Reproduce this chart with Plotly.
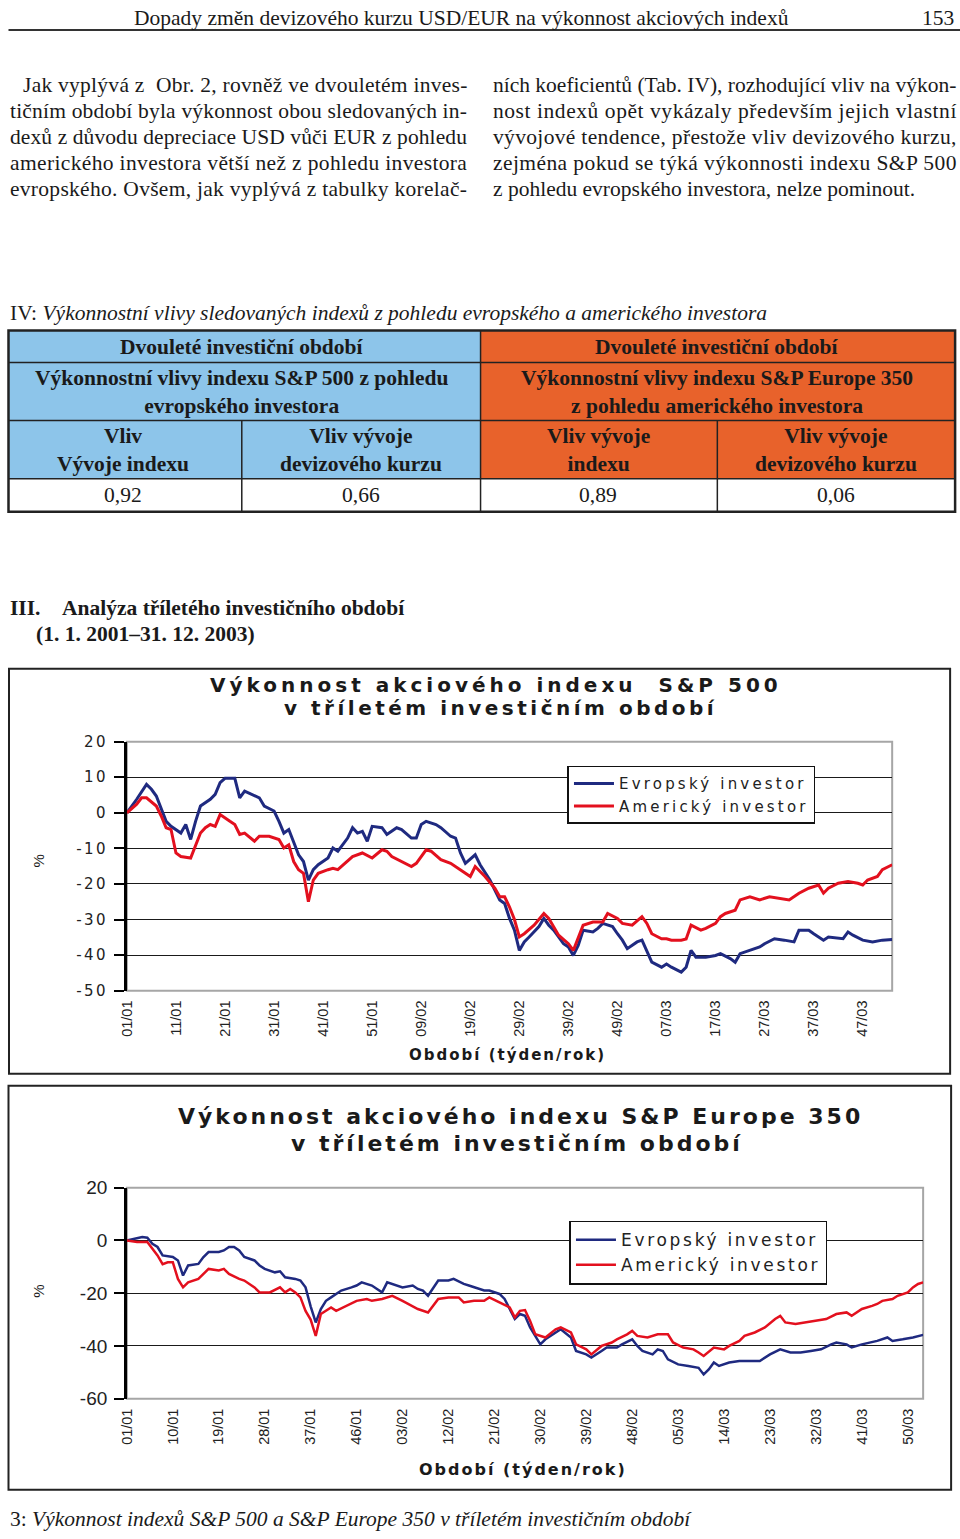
import json
import plotly.graph_objects as go

W, H = 960, 1539

# ---------------- data ----------------
# S&P 500 (chart 1): week index (0 = week 01/2001), cumulative performance in %
sp500_eu_weeks = [0, 2, 4, 5, 6, 7, 8, 9, 11, 12, 13, 14, 15, 17, 18, 19, 20, 22, 23, 24, 26, 27, 28, 30,
                  31, 32, 33, 34, 35, 36, 37, 38, 39, 41, 42, 43, 45, 46, 47, 48, 49, 50, 52, 53, 55, 56,
                  58, 59, 60, 61, 63, 64, 66, 67, 68, 69, 71, 72, 74, 76, 77, 78, 79, 80, 81, 82, 84, 85,
                  86, 87, 89, 90, 91, 92, 93, 95, 96, 97, 99, 100, 101, 102, 104, 105, 106, 107, 109, 110,
                  111, 113, 114, 115, 116, 118, 120, 121, 123, 124, 125, 127, 129, 130, 132, 134, 136, 137,
                  139, 140, 142, 143, 146, 147, 148, 150, 152, 154, 156]
sp500_eu = [0, 3.8, 8.0, 6.6, 4.7, 1.4, -2.4, -3.8, -5.7, -3.3, -7.5, -2.4, 1.9, 3.8, 5.2, 8.5, 9.7, 9.7,
            4.2, 6.1, 4.7, 4.2, 1.9, 0.5, -2.4, -5.7, -4.7, -8.5, -11.8, -13.7, -18.9, -16.0, -14.6,
            -12.7, -9.9, -10.8, -7.1, -4.2, -5.7, -5.2, -8.0, -3.8, -4.2, -6.1, -4.2, -4.7, -7.1, -7.1,
            -3.3, -2.4, -3.3, -4.2, -6.6, -7.1, -11.3, -14.2, -11.8, -14.6, -18.9, -24.5, -25.5, -29.7,
            -33.0, -38.7, -36.3, -34.9, -32.0, -29.7, -31.6, -33.0, -36.8, -37.7, -40.1, -37.3, -33.0,
            -33.5, -32.5, -31.1, -32.0, -34.0, -35.8, -38.2, -36.3, -35.8, -38.7, -42.0, -43.4, -42.5,
            -43.4, -44.8, -43.4, -38.7, -40.6, -40.6, -40.1, -39.6, -41.0, -42.0, -39.6, -38.7, -37.7,
            -36.8, -35.4, -35.8, -36.3, -33.0, -33.0, -34.0, -35.8, -34.9, -35.4, -33.5, -34.4, -35.8,
            -36.3, -35.8, -35.6]

sp500_us_weeks = [0, 2, 3, 4, 6, 7, 8, 9, 10, 11, 13, 14, 15, 16, 17, 18, 19, 21, 22, 23, 24, 26, 27, 29,
                  31, 32, 33, 34, 35, 36, 37, 38, 39, 41, 42, 43, 45, 46, 48, 50, 52, 53, 54, 56, 58, 59,
                  61, 62, 64, 66, 68, 70, 71, 73, 75, 76, 77, 78, 79, 80, 81, 83, 85, 86, 88, 90, 91, 92,
                  93, 95, 97, 98, 100, 101, 103, 105, 106, 107, 109, 110, 111, 113, 114, 115, 117, 118,
                  120, 121, 122, 124, 125, 127, 129, 131, 133, 135, 137, 139, 141, 142, 143, 145, 147,
                  149, 150, 151, 153, 154, 156]
sp500_us = [0, 2.4, 4.2, 4.2, 1.9, -0.9, -4.2, -4.7, -11.3, -12.3, -12.7, -9.4, -5.7, -4.2, -3.3, -3.8,
            -0.5, -2.4, -3.3, -6.1, -5.7, -8.0, -6.6, -6.6, -7.5, -9.9, -9.0, -13.7, -16.0, -17.0, -25.0,
            -18.9, -17.0, -16.0, -15.6, -16.0, -13.7, -12.3, -11.3, -12.7, -10.4, -10.8, -12.3, -13.7,
            -15.1, -14.2, -10.4, -10.8, -13.2, -14.2, -16.0, -17.9, -15.1, -17.9, -21.2, -23.6, -23.6,
            -26.5, -30.0, -34.9, -34.0, -31.6, -28.3, -29.7, -34.4, -36.8, -38.7, -34.9, -31.6, -30.7,
            -30.7, -28.3, -29.7, -31.1, -31.6, -29.2, -31.1, -34.0, -35.4, -35.4, -35.8, -35.8, -35.5,
            -31.6, -33.0, -32.5, -31.1, -29.2, -28.3, -27.4, -24.5, -23.6, -24.5, -23.6, -24.0, -24.5,
            -22.6, -21.2, -20.3, -22.6, -21.2, -19.8, -19.3, -19.8, -20.3, -18.9, -17.9, -16.0, -14.6]

# S&P Europe 350 (chart 2)
eu350_eu_weeks = [0, 3, 4, 5, 6, 7, 9, 10, 11, 12, 14, 15, 16, 18, 19, 20, 21, 22, 23, 25, 26, 27, 29,
                  30, 31, 33, 34, 35, 36, 37, 38, 39, 40, 42, 44, 45, 46, 48, 49, 50, 51, 52, 54, 56, 57,
                  58, 59, 61, 63, 64, 66, 67, 69, 70, 71, 73, 74, 75, 76, 77, 78, 79, 81, 82, 84, 85, 87,
                  88, 90, 91, 93, 94, 96, 97, 99, 100, 101, 103, 104, 105, 106, 108, 110, 112, 113, 114,
                  115, 116, 118, 120, 122, 124, 126, 128, 130, 132, 134, 136, 138, 139, 141, 142, 144,
                  146, 147, 149, 150, 152, 154, 156]
eu350_eu = [0, 1.3, 1.0, -1.3, -2.5, -5.7, -6.3, -7.6, -13.3, -9.5, -8.9, -6.3, -4.4, -4.4, -3.8, -2.5,
            -2.5, -3.8, -6.3, -7.6, -9.5, -10.8, -12.1, -11.7, -14.0, -14.6, -15.2, -17.8, -25.0, -31.1,
            -26.0, -22.9, -21.6, -19.0, -17.8, -17.1, -15.9, -17.1, -18.4, -19.7, -15.9, -16.5, -17.8,
            -17.1, -18.4, -19.0, -21.0, -15.2, -15.2, -14.6, -16.5, -17.1, -18.4, -19.0, -19.0, -20.3,
            -22.2, -26.0, -29.8, -27.9, -28.6, -33.0, -39.4, -37.5, -34.9, -33.7, -36.8, -41.9, -43.2,
            -44.4, -41.9, -40.6, -40.6, -39.4, -37.5, -40.0, -41.9, -43.2, -41.3, -41.9, -45.1, -47.0,
            -47.6, -48.3, -50.8, -48.9, -46.3, -47.6, -46.3, -45.7, -45.7, -45.7, -43.2, -41.3, -42.5,
            -42.5, -41.9, -41.3, -39.4, -38.7, -39.4, -40.6, -39.4, -38.7, -38.1, -36.8, -38.1, -37.5,
            -36.8, -35.8]

eu350_us_weeks = [0, 2, 4, 5, 6, 7, 8, 9, 10, 11, 12, 14, 15, 16, 18, 19, 20, 22, 23, 25, 26, 28, 30,
                  31, 32, 33, 34, 35, 36, 37, 38, 39, 40, 41, 43, 44, 45, 47, 48, 50, 52, 54, 56, 57, 59,
                  61, 63, 65, 66, 68, 70, 71, 73, 75, 76, 77, 78, 79, 80, 82, 84, 85, 87, 88, 90, 91, 93,
                  95, 96, 98, 99, 100, 102, 104, 106, 107, 109, 111, 112, 113, 115, 117, 118, 120, 121,
                  123, 125, 127, 128, 129, 131, 133, 135, 137, 139, 141, 142, 144, 146, 147, 148, 150,
                  151, 153, 154, 155, 156]
eu350_us = [0, -0.6, -0.6, -3.2, -5.7, -9.0, -8.3, -8.3, -14.6, -17.8, -15.9, -14.6, -12.7, -10.8, -11.4,
            -10.8, -12.7, -14.6, -15.2, -17.8, -19.7, -19.7, -17.8, -19.7, -18.4, -19.7, -21.6, -26.7,
            -30.0, -36.2, -27.9, -26.7, -25.4, -26.7, -24.8, -24.1, -22.9, -22.2, -22.9, -22.2, -21.0,
            -22.9, -24.8, -26.0, -27.3, -22.2, -21.6, -21.6, -23.5, -22.9, -22.9, -21.6, -23.5, -25.4,
            -29.2, -26.7, -26.4, -30.5, -35.6, -36.8, -33.7, -33.0, -34.9, -39.4, -41.3, -43.2, -40.0,
            -38.7, -37.5, -35.6, -34.3, -36.2, -36.8, -35.6, -35.6, -38.7, -40.6, -41.3, -42.5, -43.8,
            -40.6, -41.3, -40.0, -38.1, -36.2, -34.9, -33.0, -29.8, -28.6, -31.1, -31.7, -31.1, -30.5,
            -29.8, -27.9, -27.3, -28.6, -26.0, -24.8, -24.1, -22.9, -22.2, -21.0, -19.7, -17.8, -16.5,
            -15.9]

series_names = ["Evropský investor", "Americký investor"]
series_colors = ["#1f2a80", "#e3101e"]

sp500_tick_weeks = [0, 10, 20, 30, 40, 50, 60, 70, 80, 90, 100, 110, 120, 130, 140, 150]
sp500_tick_labels = ["01/01", "11/01", "21/01", "31/01", "41/01", "51/01", "09/02", "19/02", "29/02",
                     "39/02", "49/02", "07/03", "17/03", "27/03", "37/03", "47/03"]
eu350_tick_weeks = [0, 9, 18, 27, 36, 45, 54, 63, 72, 81, 90, 99, 108, 117, 126, 135, 144, 153]
eu350_tick_labels = ["01/01", "10/01", "19/01", "28/01", "37/01", "46/01", "03/02", "12/02", "21/02",
                     "30/02", "39/02", "48/02", "05/03", "14/03", "23/03", "32/03", "41/03", "50/03"]
sp500_y_ticks = [20, 10, 0, -10, -20, -30, -40, -50]
eu350_y_ticks = [20, 0, -20, -40, -60]

table_values = ["0,92", "0,66", "0,89", "0,06"]

# ---------------- helpers ----------------
# the photographed page is offset/scaled slightly; positions below are given in
# target-picture pixels and converted to figure pixels here
OX, SX, OY, SY = 7.0, 0.9926, 9.4, 0.9863


def X(px):
    return ((max(px, 7.5) - OX) / SX) / W


def Y(py):
    return 1 - ((py - OY) / SY) / H


SERIF = "Liberation Serif, Times New Roman, serif"
SANS = "DejaVu Sans, Verdana, sans-serif"
ARIAL = "Liberation Sans, Arial, sans-serif"

fig = go.Figure()


def spaced(txt, sp):
    return f'<span style="letter-spacing:{sp}px">{txt}</span>'


# chart 1 traces
for wk, vals, nm, col in [(sp500_eu_weeks, sp500_eu, series_names[0], series_colors[0]),
                          (sp500_us_weeks, sp500_us, series_names[1], series_colors[1])]:
    fig.add_trace(go.Scatter(x=wk, y=vals, mode="lines", name=spaced(nm, 3.2),
                             line=dict(color=col, width=3), xaxis="x", yaxis="y", legend="legend"))
# chart 2 traces
for wk, vals, nm, col in [(eu350_eu_weeks, eu350_eu, series_names[0], series_colors[0]),
                          (eu350_us_weeks, eu350_us, series_names[1], series_colors[1])]:
    fig.add_trace(go.Scatter(x=wk, y=vals, mode="lines", name=spaced(nm, 2.7),
                             line=dict(color=col, width=2.5), xaxis="x2", yaxis="y2", legend="legend2"))

ann = []
shapes = []


def text(px, py, t, size=21.5, family=SERIF, xanchor="left", color="#1a1a1a", angle=0, align="left"):
    ann.append(dict(x=X(px), y=Y(py), xref="paper", yref="paper", text=t, showarrow=False,
                    xanchor=xanchor, yanchor="middle", align=align, textangle=angle,
                    font=dict(size=size, family=family, color=color)))


def line(x0, y0, x1, y1, w=2, color="#222"):
    shapes.append(dict(type="line", xref="paper", yref="paper", x0=X(x0), y0=Y(y0), x1=X(x1), y1=Y(y1),
                       line=dict(color=color, width=w)))


def rect(x0, y0, x1, y1, w=2, color="#222", fill=None, layer="above"):
    d = dict(type="rect", xref="paper", yref="paper", x0=X(x0), y0=Y(y0), x1=X(x1), y1=Y(y1),
             line=dict(color=color, width=w), layer=layer)
    if fill:
        d["fillcolor"] = fill
    shapes.append(d)


# ---------------- page header ----------------
text(461, 17, "Dopady změn devizového kurzu USD/EUR na výkonnost akciových indexů", xanchor="center")
text(956, 17, "153", xanchor="right")
line(0, 29.5, 960, 29.5, w=2, color="#333")

left_lines = ["Jak vyplývá z  Obr. 2, rovněž ve dvouletém inves-",
              "tičním období byla výkonnost obou sledovaných in-",
              "dexů z důvodu depreciace USD vůči EUR z pohledu",
              "amerického investora větší než z pohledu investora",
              "evropského. Ovšem, jak vyplývá z tabulky korelač-"]
right_lines = ["ních koeficientů (Tab. IV), rozhodující vliv na výkon-",
               "nost indexů opět vykázaly především jejich vlastní",
               "vývojové tendence, přestože vliv devizového kurzu,",
               "zejména pokud se týká výkonnosti indexu S&P 500",
               "z pohledu evropského investora, nelze pominout."]
justify = []
for i, t in enumerate(left_lines):
    x0 = 20 if i == 0 else 7.5
    text(x0, 84 + 26 * i, t)
    justify.append([t[:14], round((461 - x0) / SX, 1)])
for i, t in enumerate(right_lines):
    text(490, 84 + 26 * i, t)
    if i < len(right_lines) - 1:
        justify.append([t[:14], round((950 - 490) / SX, 1)])

# ---------------- table ----------------
text(3, 312, "IV: <i>Výkonnostní vlivy sledovaných indexů z pohledu evropského a amerického investora</i>")
BLUE_T, ORANGE_T = "#8dc5ea", "#e8622b"
rect(3, 330, 480, 478, w=0, fill=BLUE_T, layer="below")
rect(480, 330, 955, 478, w=0, fill=ORANGE_T, layer="below")
rect(3, 330, 955, 511, w=2.5, color="#222")
line(3, 362, 955, 362, w=1.5)
line(3, 420, 955, 420, w=1.5)
line(3, 478, 955, 478, w=1.5)
line(480, 330, 480, 511, w=1.5)
line(241, 420, 241, 511, w=1.5)
line(717, 420, 717, 511, w=1.5)
B = dict(xanchor="center", align="center")
text(241, 346, "<b>Dvouleté investiční období</b>", **B)
text(717, 346, "<b>Dvouleté investiční období</b>", **B)
text(241, 391, "<b>Výkonnostní vlivy indexu S&P 500 z pohledu<br>evropského investora</b>", **B)
text(717, 391, "<b>Výkonnostní vlivy indexu S&P Europe 350<br>z pohledu amerického investora</b>", **B)
text(122, 449, "<b>Vliv<br>Vývoje indexu</b>", **B)
text(360, 449, "<b>Vliv vývoje<br>devizového kurzu</b>", **B)
text(598, 449, "<b>Vliv vývoje<br>indexu</b>", **B)
text(836, 449, "<b>Vliv vývoje<br>devizového kurzu</b>", **B)
for cx, v in zip([122, 360, 598, 836], table_values):
    text(cx, 494, v, xanchor="center")

# ---------------- section heading ----------------
text(3, 607, "<b>III.</b>")
text(59, 607, "<b>Analýza tříletého investičního období</b>")
text(33, 633, "<b>(1. 1. 2001–31. 12. 2003)</b>")

# ---------------- chart frames ----------------
rect(8, 668, 950, 1073, w=2, color="#222")
rect(7.5, 1085, 951, 1489, w=2, color="#222")

# chart 1 texts
text(495, 684, spaced("<b>Výkonnost akciového indexu  S&P 500</b>", 4), size=20, family=SANS, xanchor="center")
text(500, 707, spaced("<b>v tříletém investičním období</b>", 3.5), size=20, family=SANS, xanchor="center")
text(507, 1054, spaced("<b>Období (týden/rok)</b>", 2), size=15, family=SANS, xanchor="center")
text(38, 860, "%", size=15, family=ARIAL, xanchor="center", angle=-90)
# chart 2 texts
text(520, 1116, spaced("<b>Výkonnost akciového indexu S&P Europe 350</b>", 3), size=22, family=SANS, xanchor="center")
text(516, 1143, spaced("<b>v tříletém investičním období</b>", 3), size=22, family=SANS, xanchor="center")
text(522, 1469, spaced("<b>Období (týden/rok)</b>", 2), size=16, family=SANS, xanchor="center")
text(38, 1290, "%", size=15, family=ARIAL, xanchor="center", angle=-90)

# plot-area borders (grey)
shapes.append(dict(type="rect", xref="paper", yref="paper", x0=X(126), x1=X(892), y0=Y(990), y1=Y(741),
                   line=dict(color="#a6a6a6", width=2), layer="between"))
shapes.append(dict(type="rect", xref="paper", yref="paper", x0=X(126), x1=X(923), y0=Y(1398), y1=Y(1187),
                   line=dict(color="#a6a6a6", width=2), layer="between"))

# ---------------- caption ----------------
text(3, 1518, "3: <i>Výkonnost indexů S&P 500 a S&P Europe 350 v tříletém investičním období</i>")

xcommon = dict(showgrid=False, zeroline=False, showline=False, ticks="", tickangle=-90,
               tickfont=dict(family=ARIAL, size=14.5, color="#222"), ticklabelstandoff=6)
ycommon = dict(showgrid=True, gridcolor="#1a1a1a", gridwidth=1.3, zeroline=False, showline=True,
               linecolor="black", linewidth=2.5, ticks="outside", ticklen=10, tickwidth=1.5,
               tickcolor="black", ticklabelstandoff=3)

fig.update_layout(
    width=W, height=H, margin=dict(l=0, r=0, t=0, b=0, pad=0),
    paper_bgcolor="white", plot_bgcolor="white",
    showlegend=True,
    xaxis=dict(domain=[X(126), X(892)], anchor="y", range=[0, 156],
               tickvals=sp500_tick_weeks, ticktext=sp500_tick_labels, **xcommon),
    yaxis=dict(domain=[Y(990), Y(741)], anchor="x", range=[-50, 20], tickvals=sp500_y_ticks,
               ticktext=[spaced(str(v), 2.5) for v in sp500_y_ticks],
               tickfont=dict(family=SANS, size=15, color="#222"), **ycommon),
    xaxis2=dict(domain=[X(126), X(923)], anchor="y2", range=[0, 156],
                tickvals=eu350_tick_weeks, ticktext=eu350_tick_labels, **xcommon),
    yaxis2=dict(domain=[Y(1398), Y(1187)], anchor="x2", range=[-60, 20], tickvals=eu350_y_ticks,
                ticktext=[str(v) for v in eu350_y_ticks],
                tickfont=dict(family=ARIAL, size=19, color="#222"), **ycommon),
    legend=dict(x=X(567), y=Y(765), xanchor="left", yanchor="top", bgcolor="white",
                bordercolor="#111", borderwidth=1.5, font=dict(family=SANS, size=15, color="#222"),
                tracegroupgap=0, itemwidth=40),
    legend2=dict(x=X(569), y=Y(1220), xanchor="left", yanchor="top", bgcolor="white",
                 bordercolor="#111", borderwidth=1.5, font=dict(family=SANS, size=17, color="#222"),
                 tracegroupgap=0, itemwidth=40),
    annotations=ann, shapes=shapes,
)

# page without margins + justified body-text lines (stretch spacing like the typeset page)
post = ("document.documentElement.style.margin='0';document.documentElement.style.padding='0';"
        "document.body.style.margin='0';document.body.style.padding='0';"
        "document.documentElement.style.overflow='hidden';document.body.style.overflow='hidden';"
        "var gd=document.getElementById('{plot_id}');gd.style.position='absolute';"
        "gd.style.left='0px';gd.style.top='0px';"
        "try{var J=" + json.dumps(justify, ensure_ascii=False) + ";"
        "document.querySelectorAll('text.annotation-text').forEach(function(t){"
        "var s=t.textContent;for(var i=0;i<J.length;i++){if(s.indexOf(J[i][0])===0){"
        "t.setAttribute('textLength',J[i][1]);t.setAttribute('lengthAdjust','spacing');}}});"
        "}catch(e){}")
fig.write_html("out.html", config={"displayModeBar": False}, post_script=post)
